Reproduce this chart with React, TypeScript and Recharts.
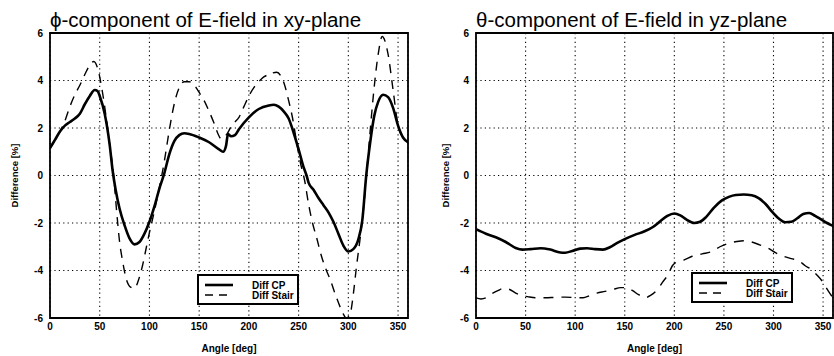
import React from "react";
import {
  CartesianGrid,
  Line,
  LineChart,
  ReferenceArea,
  XAxis,
  YAxis,
} from "recharts";

const xTicks = [0, 50, 100, 150, 200, 250, 300, 350];
const yTicks = [-6, -4, -2, 0, 2, 4, 6];

// phi-component, xy-plane
const xyCpAngles = [
  0, 5, 10, 15, 20, 25, 30, 35, 40, 45, 48, 50, 55, 60, 63, 66, 70, 75, 80, 85, 90, 95, 100, 105,
  110, 115, 120, 125, 130, 135, 140, 150, 160, 170, 174, 177, 179, 182, 186, 190, 200, 210, 220,
  225, 230, 235, 240, 245, 250, 255, 258, 260, 265, 270, 275, 280, 285, 290, 295, 300, 305, 310,
  314, 318, 322, 326, 330, 335, 340, 345, 350, 355, 360,
];
const xyCpValues = [
  1.15, 1.5, 1.85, 2.1, 2.25, 2.4, 2.6, 3.0, 3.35, 3.6, 3.55, 3.35, 2.6, 1.3, 0.2, -0.6, -1.4,
  -2.1, -2.65, -2.9, -2.8, -2.45, -1.95, -1.3, -0.55, 0.1, 0.9, 1.45, 1.7, 1.78, 1.75, 1.6, 1.4,
  1.1, 1.0, 1.25, 1.75, 1.65, 1.7, 1.95, 2.45, 2.8, 2.95, 2.98, 2.9, 2.7, 2.4, 1.8, 1.1, 0.35, 0.0,
  -0.3, -0.6, -0.95, -1.25, -1.55, -1.95, -2.45, -2.95, -3.2, -3.1, -2.7, -1.9, 0.0, 1.4, 2.5, 3.1,
  3.4, 3.3, 2.85, 2.1, 1.6, 1.4,
];

const xyStairAngles = [
  0, 5, 10, 15, 20, 25, 30, 35, 40, 44, 48, 52, 56, 60, 64, 67, 70, 73, 77, 81, 85, 89, 93, 97, 100,
  105, 110, 115, 118, 122, 126, 130, 135, 140, 145, 150, 155, 160, 165, 169, 172, 175, 178, 182,
  186, 190, 195, 200, 205, 210, 215, 220, 228, 232, 236, 240, 244, 248, 252, 256, 260, 264, 268,
  273, 278, 282, 286, 290, 294, 298, 302, 305, 308, 312, 315, 318, 322, 325, 330, 334, 340, 345,
  350, 355, 360,
];
const xyStairValues = [
  1.15, 1.5, 1.85, 2.3, 2.9, 3.4, 3.8, 4.25, 4.65, 4.8, 4.5, 3.7, 2.6, 1.3, 0.0, -1.5, -2.8, -3.6,
  -4.4, -4.7, -4.75, -4.4, -3.8, -3.0, -2.4, -1.5, -0.5, 0.6, 1.4, 2.4, 3.2, 3.7, 3.95, 3.95, 3.8,
  3.5, 3.15, 2.7, 2.2, 1.75, 1.55, 1.6, 1.75, 2.05, 2.25, 2.45, 2.9, 3.35, 3.7, 3.95, 4.15, 4.25,
  4.35, 4.2, 3.8, 3.15, 2.4, 1.4, 0.5, -0.2, -1.2, -2.0, -2.6, -3.4, -4.0, -4.4, -4.9, -5.35, -5.75,
  -6.0, -5.8, -5.0, -3.9, -2.6, -1.5, -0.1, 1.9, 3.3, 5.1, 5.85, 5.1, 3.6, 2.1, 1.6, 1.4,
];

// theta-component, yz-plane
const yzCpAngles = [
  0, 10, 20, 30, 40, 47, 55, 65, 75, 85, 90, 97, 105, 112, 120, 128, 135, 142, 150, 160, 170, 178,
  186, 193, 200, 206, 212, 220, 226, 232, 240, 248, 255, 262, 270, 278, 285, 292, 298, 305, 312,
  318, 324, 330, 336, 342, 348, 354, 360,
];
const yzCpValues = [
  -2.26, -2.45, -2.6, -2.8, -3.05, -3.12, -3.1, -3.06, -3.12, -3.24, -3.25, -3.18, -3.08, -3.06,
  -3.1, -3.12, -3.02, -2.85, -2.68, -2.5, -2.35, -2.18, -1.92, -1.7, -1.6, -1.68, -1.85, -2.0,
  -1.95, -1.75, -1.35, -1.05, -0.9, -0.82, -0.8, -0.83, -0.95, -1.2, -1.5, -1.8, -1.97, -1.95,
  -1.8, -1.62, -1.58, -1.7, -1.85, -2.0, -2.12,
];

const yzStairAngles = [
  0, 5, 10, 15, 22, 28, 34, 40, 46, 52, 60, 70, 80, 90, 100, 108, 115, 122, 130, 138, 146, 152,
  158, 164, 170, 176, 182, 188, 194, 198, 202, 210, 218, 228, 238, 246, 255, 263, 270, 278, 286,
  294, 302, 310, 318, 326, 332, 338, 344, 350, 355, 360,
];
const yzStairValues = [
  -5.15, -5.2, -5.15, -5.0, -4.85, -4.75, -4.8, -4.95, -5.05, -5.1, -5.15, -5.15, -5.13, -5.12,
  -5.14, -5.15, -5.05, -4.95, -4.88, -4.8, -4.72, -4.72, -4.85, -5.02, -5.15, -5.05, -4.85, -4.5,
  -4.15, -3.8, -3.65, -3.55, -3.4, -3.3, -3.2, -3.0, -2.85, -2.78, -2.75, -2.8, -2.92, -3.05,
  -3.25, -3.4, -3.5, -3.6, -3.8, -3.95, -4.2, -4.5, -4.85, -5.15,
];

const zip = (angles: number[], values: number[]) =>
  angles.map((angle, i) => ({ angle, value: values[i] }));

const font = '"Liberation Sans", Arial, Helvetica, sans-serif';
const tickStyle = { fontSize: 10, fontWeight: 700, fill: "#000", fontFamily: font };

function LegendBox({ left, top }: { left: number; top: number }) {
  const text = { fontSize: 10, fontWeight: 700, fontFamily: font, fill: "#000" };
  return (
    <svg
      width={102}
      height={31}
      style={{ position: "absolute", left: left - 1, top: top - 1, overflow: "visible" }}
    >
      <rect x={1} y={1} width={100} height={29} fill="#fff" stroke="#000" strokeWidth={2} />
      <line x1={8} x2={36} y1={11} y2={11} stroke="#000" strokeWidth={2.6} />
      <line x1={8} x2={36} y1={21} y2={21} stroke="#000" strokeWidth={1.3} strokeDasharray="8 6" />
      <text x={55} y={14.5} {...text}>Diff CP</text>
      <text x={55} y={24.5} {...text}>Diff Stair</text>
    </svg>
  );
}

function Panel({
  left,
  width,
  axisWidth,
  rightMargin,
  labelOffset,
  title,
  cp,
  stair,
  legendLeft,
  legendTop,
  dash,
}: {
  left: number;
  width: number;
  axisWidth: number;
  rightMargin: number;
  labelOffset: number;
  title: string;
  cp: { angle: number; value: number }[];
  stair: { angle: number; value: number }[];
  legendLeft: number;
  legendTop: number;
  dash: string;
}) {
  return (
    <div style={{ position: "absolute", left, top: 0, width, height: 356 }}>
      <div
        style={{
          position: "absolute",
          left: axisWidth,
          top: 10,
          fontSize: 20.5,
          lineHeight: "20px",
          fontFamily: font,
          whiteSpace: "nowrap",
          color: "#000",
        }}
      >
        {title}
      </div>
      <LineChart
        width={width}
        height={356}
        margin={{ top: 33, right: rightMargin, bottom: 0, left: 0 }}
      >
        <CartesianGrid stroke="#000" strokeWidth={1.1} strokeDasharray="1.2 3.2" />
        <XAxis
          dataKey="angle"
          type="number"
          domain={[0, 360]}
          ticks={xTicks}
          allowDataOverflow
          height={38}
          axisLine={false}
          tickLine={false}
          tickSize={4}
          tickMargin={1}
          tick={tickStyle}
          label={{
            value: "Angle [deg]",
            position: "insideBottom",
            offset: 4,
            style: { fontSize: 10, fontWeight: 700, fill: "#000", fontFamily: font },
          }}
        />
        <YAxis
          type="number"
          domain={[-6, 6]}
          ticks={yTicks}
          allowDataOverflow
          width={axisWidth}
          axisLine={false}
          tickLine={false}
          tickSize={4}
          tickMargin={3}
          tick={tickStyle}
          label={{
            value: "Difference [%]",
            angle: -90,
            position: "insideLeft",
            offset: labelOffset,
            textAnchor: "middle",
            style: { fontSize: 9.5, fontWeight: 700, fill: "#000", fontFamily: font },
          }}
        />
        <Line
          data={stair}
          dataKey="value"
          type="monotone"
          stroke="#000"
          strokeWidth={1.4}
          strokeDasharray={dash}
          dot={false}
          isAnimationActive={false}
        />
        <Line
          data={cp}
          dataKey="value"
          type="monotone"
          stroke="#000"
          strokeWidth={2.6}
          dot={false}
          isAnimationActive={false}
        />
        <ReferenceArea
          x1={0}
          x2={360}
          y1={-6}
          y2={6}
          fill="none"
          stroke="#000"
          strokeWidth={1.8}
          ifOverflow="visible"
        />
      </LineChart>
      <LegendBox left={legendLeft} top={legendTop} />
    </div>
  );
}

export default function App() {
  return (
    <div
      style={{
        position: "fixed",
        left: 0,
        top: 0,
        width: 834,
        height: 356,
        overflow: "hidden",
        background: "#fff",
      }}
    >
      <Panel
        left={0}
        width={420}
        axisWidth={50}
        rightMargin={12}
        labelOffset={15}
        title="ϕ-component of E-field in xy-plane"
        cp={zip(xyCpAngles, xyCpValues)}
        stair={zip(xyStairAngles, xyStairValues)}
        legendLeft={198}
        legendTop={275}
        dash="9 7"
      />
      <Panel
        left={414}
        width={420}
        axisWidth={62}
        rightMargin={1}
        labelOffset={32}
        title="θ-component of E-field in yz-plane"
        cp={zip(yzCpAngles, yzCpValues)}
        stair={zip(yzStairAngles, yzStairValues)}
        legendLeft={278}
        legendTop={273}
        dash="10 8"
      />
    </div>
  );
}
